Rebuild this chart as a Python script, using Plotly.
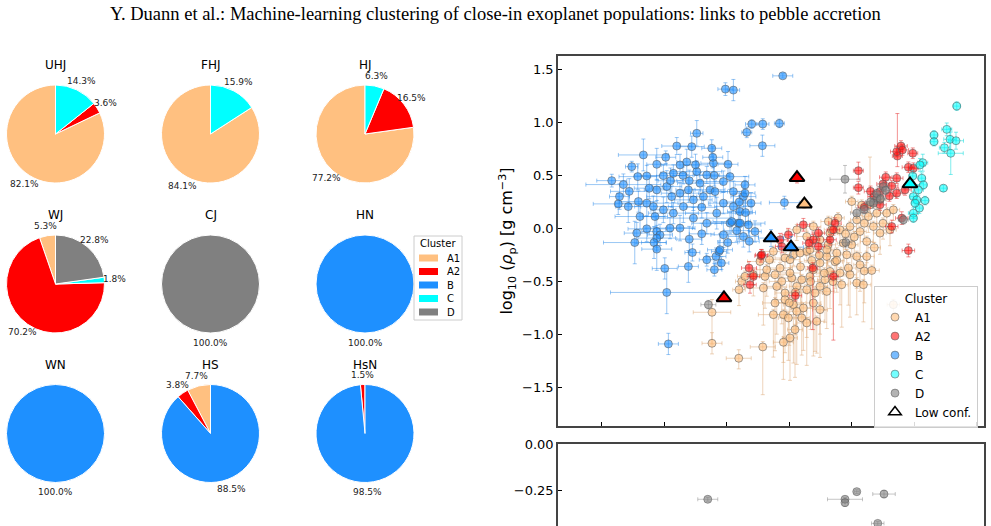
import math
import plotly.graph_objects as go

W, H = 991, 526

# ---------------- pie data (percent per cluster) ----------------
clusters = ["A1", "A2", "B", "C", "D"]
pie_colors = ["#ffc080", "#ff0000", "#1e90ff", "#00ffff", "#808080"]
pie_names = ["UHJ", "FHJ", "HJ", "WJ", "CJ", "HN", "WN", "HS", "HsN"]
uhj = [82.1, 3.6, 0, 14.3, 0]
fhj = [84.1, 0, 0, 15.9, 0]
hj = [77.2, 16.5, 0, 6.3, 0]
wj = [5.3, 70.2, 0, 1.8, 22.8]
cj = [0, 0, 0, 0, 100.0]
hn = [0, 0, 100.0, 0, 0]
wn = [0, 0, 100.0, 0, 0]
hs = [7.7, 3.8, 88.5, 0, 0]
hsn = [0, 1.5, 98.5, 0, 0]
pie_values = [uhj, fhj, hj, wj, cj, hn, wn, hs, hsn]

# ---------------- scatter data: x = log10 mass (arb. units), y = log10 density ----------------
b_x = [-1.011, -0.947, -1.24, -0.84, -1.667, -1.488, -1.40, -1.28, -1.76, -1.12, -1.107, -0.99,
       -1.92, -1.827, -1.712, -1.64, -1.56, -1.507, -1.427, -1.374, -1.32, -1.24, -1.16, -0.974,
       -1.858, -1.868, -1.788, -1.707, -1.64, -1.56, -1.48, -1.44, -1.374, -1.307, -1.214, -1.134,
       -1.027, -0.947, -0.854, -1.587, -1.507, -1.427, -1.347, -1.267, -1.187, -1.08, -1.027, -0.947,
       -0.867, -1.694, -1.574, -1.267, -1.64, -1.72, -1.56, -1.454, -1.374, -0.974, -0.907, -0.827,
       -1.534, -1.56, -1.736, -1.582, -1.56, -1.275, -1.16, -1.086, -1.062, -1.043, -1.099, -1.307,
       -1.496, -0.992, -1.48, -1.467, -1.112, -1.094, -0.854, -0.539, -0.894, -0.96, -0.894, -0.774,
       -1.027, -0.867, -1.054, -0.552, -0.80, -0.712, -0.579, -0.715, -0.806, -1.30, -1.20, -1.35,
       -1.45, -1.10, -1.25, -1.62, -1.78, -0.90, -0.85, -0.92, -0.82, -1.16, -1.30, -1.20]
b_y = [1.313, 1.304, 0.897, 0.906, 0.693, 0.671, 0.777, 0.771, 0.583, 0.756, 0.615, 0.605,
       0.451, 0.414, 0.489, 0.495, 0.605, 0.498, 0.52, 0.599, 0.627, 0.536, 0.505, 0.489,
       0.301, 0.232, 0.207, 0.254, 0.239, 0.364, 0.395, 0.301, 0.333, 0.364, 0.427, 0.364,
       0.442, 0.348, 0.411, 0.207, 0.176, 0.145, 0.207, 0.27, 0.301, 0.145, 0.239, 0.207,
       0.301, 0.113, 0.113, 0.098, -0.003, -0.043, -0.028, 0.004, 0.004, 0.051, 0.051, 0.035,
       -0.06, -0.09, -0.132, -0.132, -0.194, -0.226, -0.294, -0.263, -0.216, -0.325, -0.388, -0.357,
       -0.376, -0.132, -0.602, -1.087, 0.671, 0.348, 0.333, 0.244, 0.16, 0.066, 0.051, -0.028,
       -0.059, -0.075, -0.2, 1.438, 0.984, 0.984, 0.99, 0.78, 0.239, 0.45, 0.20, 0.50,
       0.45, 0.50, 0.60, 0.38, 0.35, 0.25, 0.15, -0.02, -0.12, 0.05, -0.10, -0.05]
b_ex = [0.06, 0.05, 0.05, 0.04, 0.20, 0.08, 0.12, 0.10, 0.05, 0.08, 0.10, 0.08,
        0.12, 0.30, 0.15, 0.10, 0.08, 0.18, 0.10, 0.15, 0.08, 0.20, 0.10, 0.15,
        0.08, 0.20, 0.10, 0.15, 0.25, 0.10, 0.12, 0.20, 0.15, 0.10, 0.18, 0.12,
        0.20, 0.10, 0.08, 0.15, 0.10, 0.20, 0.12, 0.15, 0.10, 0.25, 0.12, 0.15,
        0.10, 0.20, 0.10, 0.30, 0.15, 0.10, 0.12, 0.20, 0.10, 0.15, 0.08, 0.10,
        0.10, 0.15, 0.25, 0.10, 0.12, 0.06, 0.06, 0.08, 0.06, 0.06, 0.06, 0.08,
        0.10, 0.08, 0.45, 0.08, 0.08, 0.10, 0.08, 0.12, 0.10, 0.15, 0.20, 0.05,
        0.10, 0.12, 0.10, 0.08, 0.05, 0.05, 0.04, 0.10, 0.08, 0.10, 0.12, 0.08,
        0.10, 0.12, 0.10, 0.12, 0.15, 0.10, 0.08, 0.10, 0.08, 0.12, 0.10, 0.10]
b_ey = [0.06, 0.10, 0.12, 0.05, 0.15, 0.06, 0.08, 0.10, 0.05, 0.08, 0.08, 0.12,
        0.06, 0.10, 0.12, 0.10, 0.15, 0.10, 0.08, 0.10, 0.12, 0.10, 0.08, 0.12,
        0.12, 0.10, 0.15, 0.10, 0.12, 0.10, 0.15, 0.10, 0.10, 0.12, 0.10, 0.15,
        0.10, 0.10, 0.08, 0.10, 0.12, 0.10, 0.15, 0.10, 0.10, 0.15, 0.10, 0.12,
        0.10, 0.12, 0.10, 0.10, 0.12, 0.10, 0.15, 0.10, 0.12, 0.10, 0.15, 0.10,
        0.10, 0.12, 0.20, 0.15, 0.20, 0.08, 0.06, 0.08, 0.10, 0.06, 0.06, 0.15,
        0.10, 0.10, 0.20, 0.10, 0.10, 0.10, 0.12, 0.06, 0.15, 0.10, 0.10, 0.10,
        0.12, 0.10, 0.15, 0.02, 0.04, 0.05, 0.04, 0.10, 0.10, 0.10, 0.10, 0.08,
        0.12, 0.10, 0.10, 0.10, 0.12, 0.10, 0.12, 0.10, 0.10, 0.10, 0.12, 0.10]

a1_x = [-0.627, -0.659, -0.534, -0.467, -0.36, -0.254, -0.20, -0.12, -0.04, 0.04, 0.12, 0.066,
        -0.027, -0.014, -0.094, -0.174, -0.214, -0.254, -0.334, -0.307, -0.40, -0.48, -0.56, -0.614,
        -0.694, -0.60, -0.707, -0.534, -0.44, -0.36, -0.294, -0.20, -0.08, 0.04, 0.093, 0.16,
        -0.614, -0.534, -0.467, -0.387, -0.307, -0.254, -0.627, -0.547, -0.44, -0.507, -0.40, -0.28,
        -0.36, -0.454, -0.494, -0.547, -0.712, -0.902, -0.88, -0.854, -1.118, -1.118, -0.904, 0.0,
        0.146, 0.20, 0.28, 0.333, 0.133, 0.04, -0.014, -0.094, 0.066, 0.173, 0.226, 0.306,
        -0.174, -0.254, -0.067, 0.12, -0.36, -0.44, -0.307, -0.334, -0.414, -0.494, -0.734, -0.787,
        -0.68, -0.574, -0.494, -0.187, -0.16, -0.134, -0.19, 0.0, -0.11, 0.08, 0.226, 0.333,
        -0.05, 0.02, -0.12, -0.20, -0.26, -0.32, -0.41, -0.45, -0.33, -0.22, -0.15, -0.50,
        0.10, 0.18, 0.25, 0.10]
a1_y = [-0.216, -0.294, -0.278, -0.247, -0.216, -0.325, -0.263, -0.231, -0.247, -0.263, -0.263, -0.341,
        -0.372, -0.435, -0.419, -0.404, -0.482, -0.545, -0.451, -0.388, -0.482, -0.466, -0.498, -0.435,
        -0.451, -0.545, -0.56, -0.607, -0.545, -0.576, -0.607, -0.592, -0.529, -0.513, -0.529, -0.395,
        -0.701, -0.67, -0.717, -0.748, -0.701, -0.764, -0.811, -0.811, -0.78, -0.842, -0.842, -0.874,
        -0.889, -0.952, -1.03, -1.071, -1.115, -0.576, -0.498, -0.451, -0.789, -1.081, -1.222, 0.254,
        0.223, 0.145, 0.145, 0.176, 0.113, 0.082, 0.019, -0.012, -0.028, 0.019, -0.043, -0.012,
        -0.043, -0.106, -0.137, -0.122, -0.075, -0.012, 0.019, -0.20, -0.231, -0.294, -0.31, -0.435,
        -0.388, -0.372, -0.419, 0.066, -0.012, -0.313, -0.153, -0.153, 0.10, 0.22, 0.27, -0.717,
        -0.05, -0.08, -0.30, -0.20, -0.25, -0.30, -0.36, -0.60, -0.50, -0.42, -0.50, -0.70,
        -0.40, -0.18, 0.05, 0.05]
a1_ex = [0.08, 0.10, 0.08, 0.10, 0.08, 0.06, 0.08, 0.06, 0.05, 0.05, 0.06, 0.05,
         0.06, 0.05, 0.06, 0.08, 0.06, 0.06, 0.08, 0.06, 0.08, 0.10, 0.10, 0.12,
         0.10, 0.08, 0.15, 0.08, 0.06, 0.08, 0.06, 0.06, 0.05, 0.05, 0.06, 0.06,
         0.10, 0.08, 0.08, 0.10, 0.06, 0.06, 0.12, 0.10, 0.08, 0.08, 0.06, 0.06,
         0.08, 0.06, 0.06, 0.08, 0.10, 0.05, 0.05, 0.06, 0.15, 0.08, 0.10, 0.05,
         0.05, 0.05, 0.05, 0.05, 0.05, 0.05, 0.05, 0.06, 0.05, 0.05, 0.05, 0.05,
         0.06, 0.06, 0.05, 0.05, 0.08, 0.08, 0.06, 0.06, 0.08, 0.08, 0.10, 0.08,
         0.08, 0.10, 0.08, 0.06, 0.06, 0.06, 0.06, 0.05, 0.05, 0.05, 0.05, 0.05,
         0.05, 0.05, 0.06, 0.06, 0.08, 0.06, 0.08, 0.08, 0.06, 0.06, 0.06, 0.10,
         0.05, 0.05, 0.05, 0.05]
a1_eyu = [0.05] * 56 + [0.12, 0.10, 0.08, 0.05, 0.45] + [0.05] * 53
a1_eyd = [0.10, 0.15, 0.12, 0.10, 0.10, 0.20, 0.15, 0.25, 0.20, 0.30, 0.15, 0.25,
          0.35, 0.40, 0.30, 0.35, 0.40, 0.45, 0.30, 0.25, 0.35, 0.30, 0.40, 0.25,
          0.30, 0.45, 0.35, 0.50, 0.40, 0.45, 0.55, 0.35, 0.40, 0.30, 0.35, 0.55,
          0.45, 0.50, 0.55, 0.40, 0.50, 0.45, 0.40, 0.45, 0.50, 0.40, 0.35, 0.30,
          0.40, 0.45, 0.40, 0.35, 0.45, 0.15, 0.10, 0.10, 0.30, 0.10, 0.10, 0.10,
          0.10, 0.10, 0.10, 0.10, 0.15, 0.15, 0.20, 0.15, 0.20, 0.15, 0.20, 0.15,
          0.15, 0.20, 0.25, 0.20, 0.15, 0.10, 0.15, 0.20, 0.15, 0.20, 0.15, 0.20,
          0.25, 0.20, 0.25, 0.15, 0.20, 0.25, 0.20, 0.25, 0.15, 0.10, 0.10, 0.10,
          0.15, 0.20, 0.30, 0.20, 0.25, 0.30, 0.35, 0.40, 0.45, 0.35, 0.40, 0.40,
          0.30, 0.20, 0.15, 0.15]

a2_x = [0.365, 0.394, 0.36, 0.405, 0.488, 0.053, 0.053, 0.272, 0.36, 0.453, 0.493, 0.32,
        0.226, 0.301, 0.36, 0.426, 0.178, 0.32, 0.40, -0.134, -0.387, -0.574, -0.507, -0.267,
        0.226, -0.307, -0.267, -0.726, -0.822, -0.787, -0.56, -0.147, -0.174, 0.453, -0.312, -0.451,
        -0.814, -0.72, -0.342, -0.147, 0.10, 0.25, 0.15]
a2_y = [0.683, 0.777, 0.724, 0.74, 0.709, 0.545, 0.385, 0.483, 0.474, 0.577, 0.568, 0.401,
        0.348, 0.307, 0.333, 0.364, 0.301, 0.019, 0.098, 0.051, 0.035, -0.106, -0.059, -0.043,
        0.223, -0.106, -0.169, -0.257, -0.372, -0.451, -0.169, -0.012, -0.106, -0.207, -0.372, -0.632,
        -0.529, -0.247, -0.137, -0.451, 0.20, 0.42, 0.35]
a2_ex = [0.04, 0.05, 0.05, 0.05, 0.04, 0.04, 0.04, 0.05, 0.05, 0.05, 0.04, 0.05,
         0.05, 0.05, 0.05, 0.05, 0.05, 0.05, 0.05, 0.05, 0.05, 0.06, 0.05, 0.05,
         0.05, 0.05, 0.05, 0.05, 0.06, 0.05, 0.05, 0.05, 0.05, 0.05, 0.04, 0.05,
         0.05, 0.05, 0.05, 0.04, 0.05, 0.05, 0.05]
a2_eyu = [0.40, 0.05, 0.05, 0.05, 0.05, 0.08, 0.06, 0.05, 0.05, 0.05, 0.05, 0.05,
          0.05, 0.05, 0.05, 0.05, 0.05, 0.06, 0.06, 0.05, 0.06, 0.06, 0.06, 0.05,
          0.05, 0.05, 0.06, 0.06, 0.06, 0.06, 0.06, 0.05, 0.05, 0.06, 0.05, 0.05,
          0.08, 0.05, 0.05, 0.05, 0.05, 0.05, 0.05]
a2_eyd = [0.10, 0.05, 0.05, 0.05, 0.05, 0.08, 0.06, 0.05, 0.05, 0.05, 0.05, 0.05,
          0.05, 0.05, 0.05, 0.05, 0.05, 0.06, 0.06, 0.05, 0.06, 0.06, 0.06, 0.05,
          0.05, 0.05, 0.06, 0.06, 0.06, 0.08, 0.06, 0.05, 0.05, 0.06, 0.58, 0.05,
          0.08, 0.05, 0.05, 0.60, 0.05, 0.05, 0.05]

c_x = [0.84, 0.658, 0.76, 0.658, 0.786, 0.834, 0.741, 0.792, 0.568, 0.546, 0.488, 0.56,
       0.573, 0.533, 0.493, 0.52, 0.586, 0.733, 0.541, 0.493, 0.493, 0.506]
c_y = [1.153, 0.881, 0.934, 0.818, 0.84, 0.827, 0.761, 0.709, 0.62, 0.599, 0.495, 0.474,
       0.411, 0.364, 0.301, 0.27, 0.263, 0.38, 0.192, 0.145, 0.098, 0.239]
c_ex = [0.03, 0.03, 0.04, 0.03, 0.05, 0.06, 0.04, 0.10, 0.04, 0.04, 0.03, 0.03,
        0.03, 0.04, 0.03, 0.03, 0.03, 0.03, 0.03, 0.04, 0.03, 0.03]
c_ey = [0.04, 0.04, 0.06, 0.04, 0.10, 0.08, 0.05, 0.20, 0.08, 0.06, 0.05, 0.05,
        0.04, 0.05, 0.05, 0.04, 0.04, 0.03, 0.05, 0.05, 0.04, 0.04]

d_x = [-0.054, -1.147, 0.04, 0.253, 0.20, 0.173, 0.20, 0.23, 0.15, 0.27, 0.10, -0.048, 0.413]
d_y = [0.464, -0.717, 0.145, 0.395, 0.286, 0.239, 0.33, 0.28, 0.25, 0.36, 0.18, -0.132, 0.082]
d_ex = [0.12, 0.06, 0.05, 0.05, 0.05, 0.05, 0.04, 0.04, 0.04, 0.04, 0.04, 0.05, 0.04]
d_ey = [0.13, 0.04, 0.05, 0.05, 0.05, 0.05, 0.04, 0.04, 0.04, 0.04, 0.04, 0.05, 0.04]

# lower panel (cluster D only)
d2_x = [-1.152, 0.04, -0.054, -0.054, 0.258, 0.208]
d2_y = [-0.296, -0.255, -0.296, -0.314, -0.268, -0.425]
d2_ex = [0.08, 0.02, 0.14, 0.02, 0.09, 0.05]
d2_ey = [0.01, 0.01, 0.01, 0.02, 0.02, 0.01]

# low-confidence planets
lc_cluster = ["A1", "A2", "A2", "B", "B", "C"]
lc_x = [-0.379, -0.438, -1.022, -0.646, -0.486, 0.466]
lc_y = [0.229, 0.479, -0.654, -0.09, -0.175, 0.42]
lc_ex = [0.02, 0.02, 0.02, 0.10, 0.10, 0.02]
lc_ey = [0.04, 0.05, 0.03, 0.08, 0.10, 0.03]

# ---------------- styling ----------------
fill = {"A1": "rgba(255,192,128,0.62)", "A2": "rgba(255,0,0,0.55)", "B": "rgba(30,144,255,0.6)",
        "C": "rgba(0,255,255,0.55)", "D": "rgba(128,128,128,0.6)"}
errc = {"A1": "rgba(222,170,120,0.5)", "A2": "rgba(230,40,40,0.5)", "B": "rgba(30,130,230,0.45)",
        "C": "rgba(0,220,220,0.5)", "D": "rgba(128,128,128,0.45)"}
solid = dict(zip(clusters, pie_colors))

fig = go.Figure()

# pies: 3x3 grid, centres in pixels (layout only)
col_cx = [55.5, 210.5, 365]
row_cy = [134, 284, 433.5]
R = 49
PCT_DIST = 1.2
for i, (name, vals) in enumerate(zip(pie_names, pie_values)):
    cx = col_cx[i % 3]
    cy = row_cy[i // 3]
    keep = [k for k, v in enumerate(vals) if v > 0]
    labs = [clusters[k] for k in keep]
    vv = [vals[k] for k in keep]
    cols = [pie_colors[k] for k in keep]
    tot = sum(vv)
    # matplotlib-like: first wedge starts at 12 o'clock and runs counter-clockwise
    rot = -360.0 * vv[0] / tot
    fig.add_trace(go.Pie(
        labels=labs, values=vv, sort=False, direction="counterclockwise", rotation=rot,
        marker=dict(colors=cols, line=dict(color="white", width=1)),
        textinfo="none",
        domain=dict(x=[(cx - R) / W, (cx + R) / W], y=[1 - (cy + R) / H, 1 - (cy - R) / H]),
        showlegend=False, hoverinfo="skip",
    ))
    fig.add_annotation(x=cx / W, y=1 - (cy - R - 20) / H, xref="paper", yref="paper",
                       text=name, showarrow=False, font=dict(size=12, color="black"),
                       xanchor="center", yanchor="middle")
    # autopct-style labels at 1.2 R along each wedge's mid-angle
    cum = 0.0
    for v in vv:
        theta = math.radians(360.0 * (cum + v / 2) / tot)
        cum += v
        lx = cx - math.sin(theta) * PCT_DIST * R
        ly = cy - math.cos(theta) * PCT_DIST * R
        fig.add_annotation(x=lx / W, y=1 - ly / H, xref="paper", yref="paper",
                           text=f"{v:.1f}%", showarrow=False, font=dict(size=9, color="#222"),
                           xanchor="center", yanchor="middle")

# pie legend (drawn as layout decoration)
LX0, LY0, LX1, LY1 = 414, 236, 462, 320
fig.add_shape(type="rect", xref="paper", yref="paper", x0=LX0 / W, x1=LX1 / W,
              y0=1 - LY1 / H, y1=1 - LY0 / H, line=dict(color="#cccccc", width=1),
              fillcolor="white", layer="above")
fig.add_annotation(x=(LX0 + LX1) / 2 / W, y=1 - 244 / H, xref="paper", yref="paper", text="Cluster",
                   showarrow=False, font=dict(size=10, color="black"), xanchor="center", yanchor="middle")
for k, (lab, col) in enumerate(zip(clusters, pie_colors)):
    yc = 258 + k * 13.5
    fig.add_shape(type="rect", xref="paper", yref="paper", x0=419 / W, x1=438 / W,
                  y0=1 - (yc + 3.5) / H, y1=1 - (yc - 3.5) / H, line=dict(width=0),
                  fillcolor=col, layer="above")
    fig.add_annotation(x=445 / W, y=1 - yc / H, xref="paper", yref="paper", text=lab,
                       showarrow=False, font=dict(size=10, color="black"),
                       xanchor="left", yanchor="middle")


def add_cluster(name, x, y, ex, eyu, eyd, xa="x", ya="y", legend=True):
    fig.add_trace(go.Scatter(
        x=x, y=y, mode="markers", name=name, xaxis=xa, yaxis=ya, showlegend=legend,
        marker=dict(size=8, color=fill[name], line=dict(color="rgba(90,90,90,0.55)", width=1)),
        error_x=dict(type="data", array=ex, color=errc[name], thickness=1, width=2),
        error_y=dict(type="data", symmetric=False, array=eyu, arrayminus=eyd,
                     color=errc[name], thickness=1, width=2),
        hoverinfo="skip",
    ))


add_cluster("A1", a1_x, a1_y, a1_ex, a1_eyu, a1_eyd)
add_cluster("A2", a2_x, a2_y, a2_ex, a2_eyu, a2_eyd)
add_cluster("B", b_x, b_y, b_ex, b_ey, b_ey)
add_cluster("C", c_x, c_y, c_ex, c_ey, c_ey)
add_cluster("D", d_x, d_y, d_ex, d_ey, d_ey)
add_cluster("D", d2_x, d2_y, d2_ex, d2_ey, d2_ey, xa="x2", ya="y2", legend=False)

for cl, x, y, ex, ey in zip(lc_cluster, lc_x, lc_y, lc_ex, lc_ey):
    fig.add_trace(go.Scatter(
        x=[x], y=[y], mode="markers", showlegend=False,
        marker=dict(symbol="triangle-up", size=13, color=solid[cl], line=dict(color="black", width=2)),
        error_x=dict(type="data", array=[ex], color=errc[cl], thickness=1, width=2),
        error_y=dict(type="data", array=[ey], color=errc[cl], thickness=1, width=2),
        hoverinfo="skip",
    ))
fig.add_trace(go.Scatter(x=[None], y=[None], mode="markers", name="Low conf.",
                         marker=dict(symbol="triangle-up-open", size=11, color="black",
                                     line=dict(width=1.5))))

X0, X1 = 558, 984
axis_common = dict(showgrid=False, zeroline=False, showline=True, linecolor="#444", linewidth=1.5,
                   ticks="inside", ticklen=4, tickcolor="black", tickwidth=1, automargin=False,
                   tickfont=dict(size=13, color="black"))
fig.update_layout(
    width=W, height=H, margin=dict(l=0, r=0, t=0, b=0, autoexpand=False),
    paper_bgcolor="white", plot_bgcolor="white",
    font=dict(family="DejaVu Sans", color="black"),
    xaxis=dict(domain=[X0 / W, X1 / W], range=[-2.35, 1.058], anchor="y", dtick=0.5, tick0=0,
               showticklabels=False, mirror=True, **axis_common),
    yaxis=dict(domain=[1 - 426 / H, 1 - 56 / H], range=[-1.86, 1.625], anchor="x", dtick=0.5,
               tick0=0, tickformat=".1f", mirror=True,
               title=dict(text="log<sub>10</sub> (<i>ρ</i><sub>p</sub>) [g cm<sup>−3</sup>]",
                          font=dict(size=16), standoff=5),
               **axis_common),
    xaxis2=dict(domain=[X0 / W, X1 / W], matches="x", anchor="y2", side="top",
                showticklabels=False, showgrid=False, zeroline=False, showline=True,
                linecolor="#444", linewidth=1.5, ticks="", automargin=False),
    yaxis2=dict(domain=[0, 1 - 444 / H], range=[-0.439, 0.0], anchor="x2", dtick=0.25, tick0=0,
                tickformat=".2f", mirror=True, **axis_common),
    legend=dict(x=874 / W, y=1 - 286 / H, xanchor="left", yanchor="top",
                bgcolor="rgba(255,255,255,0.85)", bordercolor="#cccccc", borderwidth=1,
                font=dict(size=12), title=dict(text="Cluster", side="top center", font=dict(size=12))),
)
fig.add_annotation(
    text="Y. Duann et al.: Machine-learning clustering of close-in exoplanet populations: links to pebble accretion",
    x=0.5, y=1 - 14 / H, xref="paper", yref="paper", showarrow=False,
    font=dict(family="Liberation Serif", size=18.5, color="black"), xanchor="center", yanchor="middle")

fig.write_html("out.html")
